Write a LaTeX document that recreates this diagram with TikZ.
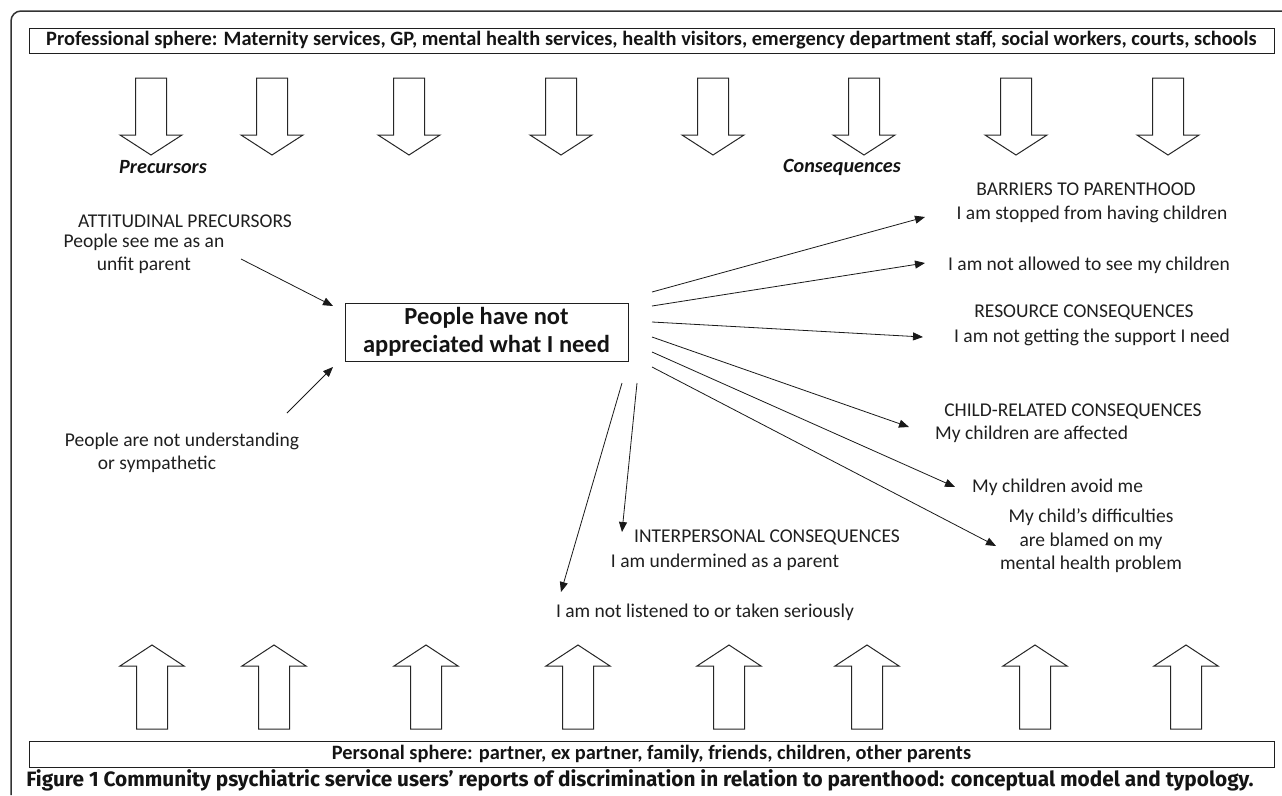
\documentclass[tikz,border=0pt]{standalone}
\usepackage{fontspec}
\setmainfont{Carlito}
\newfontfamily\capfont{Fira Sans}
\usetikzlibrary{arrows.meta,calc}
\begin{document}
\begin{tikzpicture}[x=1pt,y=-1pt]
\tikzset{
  blk/.style={draw=black!85, line width=1pt, fill=white, line join=miter},
  conn/.style={draw=black!90, line width=0.8pt, -{Triangle[length=10pt,width=8pt]}},
  txt/.style={font=\fontsize{19.5}{23.5}\selectfont, inner sep=0pt, text=black!88},
  btxt/.style={font=\bfseries\fontsize{20.4}{24}\selectfont, inner sep=0pt, text=black!92},
  hdr/.style={font=\bfseries\itshape\fontsize{20.2}{24}\selectfont, inner sep=0pt, text=black!92},
  sphere/.style={draw=black!88, line width=1pt, minimum width=1245pt, inner sep=0pt},
  downarr/.pic={\draw[blk] (-15.5,0) -- (15.5,0) -- (15.5,57) -- (31,57) -- (0,77) -- (-31,57) -- (-15.5,57) -- cycle;},
  uparr/.pic={\draw[blk] (0,0) -- (32,21) -- (15.5,21) -- (15.5,84) -- (-15.5,84) -- (-15.5,21) -- (-32,21) -- cycle;}
}
\useasboundingbox (0,0) rectangle (1282,795);
% outer frame
\draw[draw=black!80, line width=1.5pt, rounded corners=10pt] (11,795) -- (11,11) -- (1282,11);

% spheres
\node[sphere, minimum height=25pt, btxt] (prof) at (651.5,40.5) {Professional sphere: Maternity services, GP, mental health services, health visitors, emergency department staff, social workers, courts, schools};
\node[sphere, minimum height=26pt, btxt] (pers) at (651.5,754) {Personal sphere: partner, ex partner, family, friends, children, other parents};

% block arrows
\foreach \xx [count=\i] in {151,272,409,561,713,864,1016,1168} {\pic (d\i) at (\xx,78) {downarr};}
\foreach \xx [count=\i] in {152,274,426,578,729,867,1035,1186} {\pic (u\i) at (\xx,645) {uparr};}

% headers
\node[hdr] (prec) at (163,167) {Precursors};
\node[hdr] (cons) at (842,167) {Consequences};

% centre
\node[draw=black!88, line width=1pt, minimum width=283pt, minimum height=58pt, inner sep=0pt, align=center,
      font=\bfseries\fontsize{24.5}{28}\selectfont, text=black!92] (core) at (486.5,332) {People have not\\appreciated what I need};

% left texts
\node[txt] (att) at (185,221) {ATTITUDINAL PRECURSORS};
\node[txt, align=center] (unfit) at (144,254) {People see me as an\\unfit parent};
\node[txt] (sym1) at (182,441) {People are not understanding};
\node[txt] (sym2) at (157,464) {or sympathetic};

% right texts
\node[txt] (barr) at (1086,189) {BARRIERS TO PARENTHOOD};
\node[txt] (stop) at (1092,214) {I am stopped from having children};
\node[txt] (allow) at (1089,265) {I am not allowed to see my children};
\node[txt] (res) at (1084,312) {RESOURCE CONSEQUENCES};
\node[txt] (supp) at (1092,337) {I am not getting the support I need};
\node[txt] (child) at (1073,411) {CHILD-RELATED CONSEQUENCES};
\node[txt, anchor=west] (aff) at (935,434) {My children are affected};
\node[txt, anchor=west] (avoid) at (972,487) {My children avoid me};
\node[txt, align=center] (diff) at (1091,541) {My child’s difficulties\\are blamed on my\\mental health problem};
\node[txt] (inter) at (767,537) {INTERPERSONAL CONSEQUENCES};
\node[txt] (under) at (725,562) {I am undermined as a parent};
\node[txt] (list) at (705,612) {I am not listened to or taken seriously};

% caption
\node[font=\capfont\bfseries\fontsize{20.8}{24}\selectfont, inner sep=0pt, text=black!92] (cap) at (640,780) {Figure 1 Community psychiatric service users’ reports of discrimination in relation to parenthood: conceptual model and typology.};

% connector end points
\coordinate (i1s) at (241,259); \coordinate (i1e) at (333,306);
\coordinate (i2s) at (287,413); \coordinate (i2e) at (333,367);
\coordinate (o1s) at (652,292); \coordinate (o1e) at (925,217);
\coordinate (o2s) at (652,306); \coordinate (o2e) at (925,263);
\coordinate (o3s) at (652,322); \coordinate (o3e) at (923,337);
\coordinate (o4s) at (652,337); \coordinate (o4e) at (909,427);
\coordinate (o5s) at (652,352); \coordinate (o5e) at (955,487);
\coordinate (o6s) at (652,367); \coordinate (o6e) at (996,546);
\coordinate (o7s) at (622,383); \coordinate (o7e) at (561,592);
\coordinate (o8s) at (637,383); \coordinate (o8e) at (622,532);

\foreach \a/\b in {i1s/i1e,i2s/i2e,o1s/o1e,o2s/o2e,o3s/o3e,o4s/o4e,o5s/o5e,o6s/o6e,o7s/o7e,o8s/o8e}
  \draw[conn] (\a) -- (\b);
\end{tikzpicture}
\end{document}
